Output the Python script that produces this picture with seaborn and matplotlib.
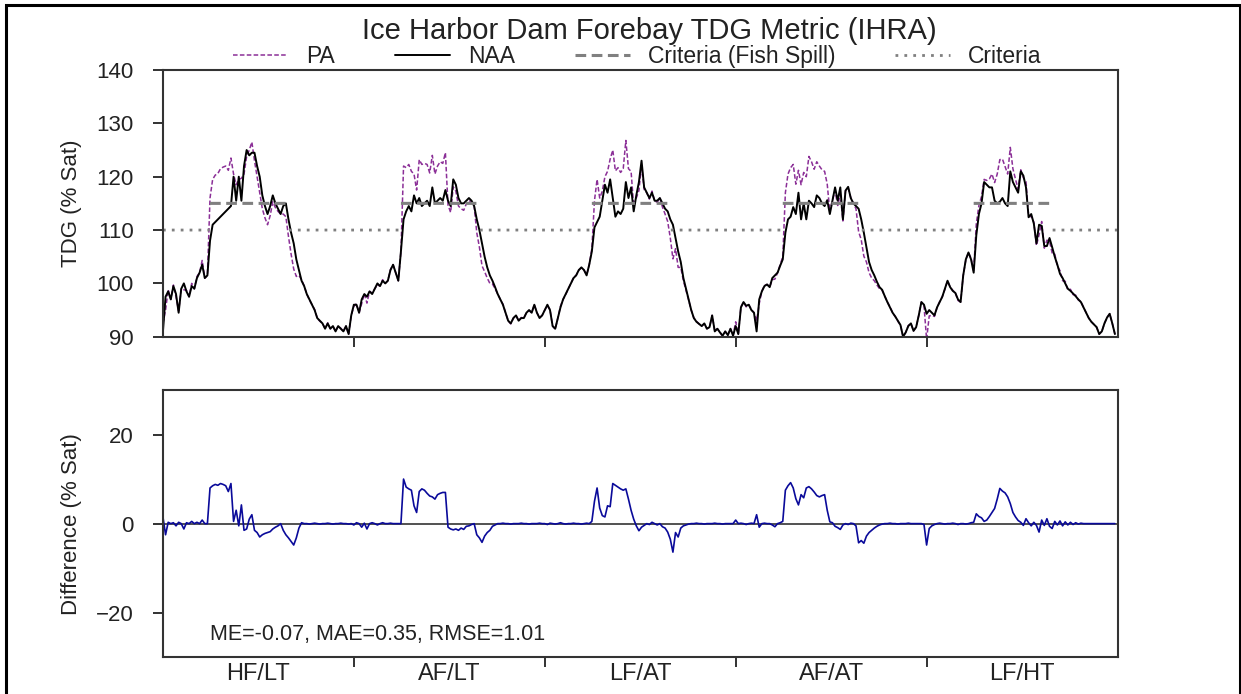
import numpy as np
import pandas as pd
import matplotlib
matplotlib.use("Agg")
import matplotlib.pyplot as plt
import seaborn as sns
from matplotlib.patches import Rectangle

sns.set_theme(style="ticks")
plt.rcParams['font.family'] = ['Liberation Sans', 'DejaVu Sans']

# ---- data (one value every 5 days, 73 per year) ----
year_labels = ["HF/LT", "AF/LT", "LF/AT", "AF/AT", "LF/HT"]
days_per_year = 365
step_days = 5
fish_spill_start = 90   # day of year
fish_spill_end = 240
criteria_fish = 115
criteria_base = 110

naa_hf_lt = [91.0, 97.5, 98.5, 97.0, 99.5, 98.0, 94.5, 99.0, 100.0, 98.5,
             97.5, 99.5, 99.0, 101.0, 102.0, 103.5, 101.0, 101.5, 108.0, 111.0,
             111.5, 112.0, 112.5, 113.0, 113.5, 114.0, 114.5, 120.0, 115.5, 120.0,
             115.5, 122.0, 125.0, 124.0, 124.5, 124.5, 122.0, 120.0, 116.5, 114.5,
             113.0, 114.5, 116.5, 115.0, 114.0, 113.0, 114.5, 115.0, 112.0, 109.5,
             107.5, 104.5, 102.5, 100.5, 99.5, 98.0, 97.0, 96.0, 95.0, 93.5,
             93.0, 92.5, 91.5, 92.5, 91.5, 92.0, 91.0, 92.0, 91.5, 91.0,
             92.0, 90.5, 94.0]
naa_af_lt = [96.0, 96.0, 94.5, 97.0, 98.0, 97.5, 98.5, 98.0, 99.0, 100.0,
             99.5, 100.5, 100.0, 100.5, 102.5, 103.5, 102.0, 100.5, 106.0, 112.0,
             113.5, 114.5, 113.5, 116.5, 115.0, 116.0, 114.5, 115.0, 115.5, 114.5,
             118.0, 115.0, 115.5, 116.0, 115.5, 117.5, 115.5, 114.5, 119.5, 118.5,
             116.0, 115.0, 115.0, 115.5, 116.0, 115.5, 114.5, 112.0, 110.0, 107.5,
             105.0, 103.0, 101.5, 100.5, 99.3, 98.0, 97.0, 96.0, 94.5, 93.0,
             92.5, 93.5, 94.0, 93.0, 93.5, 93.5, 94.5, 95.0, 94.5, 96.0,
             94.5, 93.5, 94.0]
naa_lf_at = [95.0, 96.0, 95.0, 92.0, 91.5, 93.5, 95.5, 97.0, 98.0, 99.0,
             100.0, 101.0, 101.5, 102.5, 103.0, 102.5, 101.5, 103.5, 106.0, 110.5,
             111.5, 112.5, 115.5, 118.5, 117.0, 119.5, 116.0, 112.5, 113.5, 113.0,
             114.0, 119.0, 116.0, 118.0, 113.5, 116.5, 119.0, 123.0, 118.0, 117.0,
             116.0, 117.0, 115.5, 115.5, 116.0, 115.0, 114.0, 113.5, 112.0, 111.0,
             108.5, 106.0, 104.0, 101.0, 99.0, 97.0, 95.0, 93.5, 92.8, 92.4,
             92.0, 92.5, 91.5, 91.8, 94.0, 91.0, 91.5, 90.8, 90.2, 91.0,
             90.3, 91.5, 90.2]
naa_af_at = [92.0, 90.5, 95.5, 96.5, 95.8, 96.0, 95.0, 94.5, 91.0, 97.0,
             98.5, 99.5, 99.8, 99.3, 101.0, 101.5, 102.0, 103.3, 104.5, 109.5,
             112.0, 112.5, 114.3, 113.0, 117.0, 112.0, 115.0, 112.0, 115.5, 115.0,
             114.3, 116.5, 116.0, 115.0, 114.5, 115.6, 113.0, 115.5, 118.0, 115.5,
             118.0, 112.0, 117.4, 118.1, 116.0, 115.0, 114.5, 114.0, 112.0, 109.5,
             106.8, 104.0, 102.5, 101.5, 100.3, 99.3, 98.8, 97.6, 96.5, 95.5,
             94.5, 93.8, 93.0, 92.2, 90.0, 90.8, 92.0, 92.5, 91.1, 91.8,
             94.0, 96.5, 96.0]
naa_lf_ht = [94.3, 95.0, 94.5, 94.0, 95.5, 96.5, 97.5, 99.0, 100.5, 99.3,
             98.6, 98.2, 97.0, 96.5, 101.5, 104.5, 105.8, 104.5, 102.0, 109.0,
             113.0, 115.0, 119.0, 118.5, 118.0, 118.0, 115.5, 115.0, 115.3, 116.0,
             115.0, 114.5, 121.0, 119.0, 118.0, 117.0, 121.0, 120.2, 118.0, 112.4,
             113.0, 111.2, 107.5, 111.0, 110.8, 107.0, 107.0, 108.5, 106.8, 105.0,
             103.5, 101.8, 101.0, 100.0, 99.0, 98.6, 98.1, 97.6, 97.0, 96.5,
             95.5, 94.5, 93.5, 92.8, 92.3, 91.8, 90.5, 91.0, 92.5, 93.6,
             94.3, 92.5, 90.5]

# PA minus NAA
diff_hf_lt = [1.5, -2.5, 0.3, 0.0, 0.2, -0.5, 0.3, 0.0, -1.2, 0.2,
              0.0, 0.5, 0.0, 0.3, 0.0, 0.8, 0.0, 0.0, 8.0, 8.5,
              8.8, 8.6, 9.0, 8.8, 8.5, 7.2, 9.0, 0.5, 3.0, -0.5,
              4.2, -1.5, -1.2, 1.0, 2.0, -1.5, -2.0, -3.0, -2.5, -2.2,
              -2.0, -1.8, -1.2, -0.8, -0.5, 0.0, -1.5, -2.5, -3.2, -4.0,
              -4.8, -3.2, -1.0, 0.2, 0.0, 0.0, -0.1, 0.0, 0.1, 0.0,
              -0.1, 0.0, 0.0, 0.1, 0.0, -0.1, 0.0, 0.0, 0.1, 0.0,
              0.0, -0.1, 0.0]
diff_af_lt = [-0.3, 0.2, 0.0, -0.8, 0.1, -1.2, 0.0, 0.2, 0.0, -0.3,
              0.0, 0.2, 0.0, 0.0, 0.1, 0.0, 0.0, 0.0, 0.0, 10.0,
              8.2, 7.8, 7.5, 4.0, 2.5, 7.2, 7.8, 7.5, 6.8, 6.2,
              6.0, 5.5, 6.5, 6.8, 7.0, 7.0, -0.8, -1.2, -1.4, -1.2,
              -1.5, -1.0, -1.3, -0.6, -0.5, -0.2, 0.0, -2.5, -3.2, -4.2,
              -2.8, -2.0, -1.5, -0.6, -0.3, 0.0, 0.0, 0.1, 0.0, 0.0,
              -0.1, 0.0, 0.0, 0.0, 0.1, 0.0, 0.0, -0.1, 0.0, 0.0,
              0.0, 0.1, 0.0]
diff_lf_at = [0.0, -0.2, 0.1, 0.0, -0.1, 0.0, 0.2, 0.0, -0.1, 0.0,
              0.0, 0.1, 0.0, 0.0, -0.1, 0.0, 0.1, 0.0, 0.5, 5.0,
              8.0, 3.5, 1.8, 1.5, 4.0, 3.8, 9.0, 8.6, 8.2, 7.8,
              7.5, 7.8, 5.5, 3.0, 1.0, -0.5, -1.6, -0.8, -0.4, 0.0,
              -0.2, 0.3, 0.0, -0.3, 0.0, -0.7, -1.0, -1.9, -3.5, -6.4,
              -2.0, -3.0, -1.0, -0.5, -0.3, -0.1, 0.0, 0.0, 0.1, 0.0,
              0.0, -0.1, 0.0, 0.0, 0.0, 0.1, 0.0, 0.0, -0.1, 0.0,
              0.0, 0.0, 0.0]
diff_af_at = [0.8, 0.0, 0.1, 0.0, -0.2, 0.0, 0.1, 0.0, 2.0, -0.8,
              0.0, 0.1, 0.0, 0.0, -0.3, -0.7, 0.0, 0.2, 0.5, 7.5,
              8.5, 9.2, 8.0, 5.6, 4.2, 6.5, 5.8, 8.0, 8.3, 7.8,
              7.1, 6.3, 6.0, 6.3, 6.5, 3.0, 0.4, 0.2, -0.6, -0.9,
              -1.3, -0.3, 0.0, -0.2, 0.1, 0.0, -0.5, -4.3, -3.8, -4.4,
              -2.8, -2.0, -1.5, -1.0, -0.6, -0.3, -0.1, 0.0, 0.0, 0.1,
              0.0, 0.0, -0.1, 0.0, 0.0, 0.0, 0.1, 0.0, 0.0, 0.0,
              0.0, 0.0, -0.2]
diff_lf_ht = [-4.8, -1.1, -0.5, -0.2, 0.0, 0.1, 0.0, -0.1, 0.0, 0.0,
              0.1, 0.0, -0.2, 0.0, 0.0, -0.1, 0.0, 0.2, 0.3, 2.2,
              1.6, 1.3, 0.5, 0.8, 1.6, 2.5, 3.4, 5.5, 7.9, 7.3,
              6.9, 6.0, 4.5, 2.5, 1.5, 0.7, 0.3, -0.4, 1.1, 0.2,
              -0.5, 0.3, -0.4, -1.9, 0.8, -0.4, 1.1, -0.6, -1.1, 0.5,
              -0.3, 0.6, -0.5, 0.4, -0.3, 0.3, -0.2, 0.2, -0.1, 0.1,
              0.0, 0.0, 0.0, 0.0, 0.0, 0.0, 0.0, 0.0, 0.0, 0.0,
              0.0, 0.0, 0.0]

naa_years = [naa_hf_lt, naa_af_lt, naa_lf_at, naa_af_at, naa_lf_ht]
diff_years = [diff_hf_lt, diff_af_lt, diff_lf_at, diff_af_at, diff_lf_ht]

frames = []
for i, (naa, dif) in enumerate(zip(naa_years, diff_years)):
    yday = np.arange(len(naa)) * step_days
    frames.append(pd.DataFrame({"day": i * days_per_year + yday,
                                "NAA": naa, "diff": dif}))
df = pd.concat(frames, ignore_index=True)
df["PA"] = df["NAA"] + df["diff"]

# criteria lines, daily
n_years = len(year_labels)
days = np.arange(n_years * days_per_year + 1)
doy = days % days_per_year
in_spill = (doy >= fish_spill_start) & (doy <= fish_spill_end)
crit_fish = np.where(in_spill, criteria_fish, np.nan)
crit_base = np.where(in_spill, np.nan, criteria_base)

# ---- figure ----
fig = plt.figure(figsize=(12.41, 6.94), dpi=100)
ax1 = fig.add_axes([0.1313, 0.5148, 0.7692, 0.3843])
ax2 = fig.add_axes([0.1313, 0.0529, 0.7692, 0.3852])

sns.lineplot(data=df, x="day", y="PA", ax=ax1, color="#8B2F97", lw=1.1,
             linestyle=(0, (3, 1.5)), label="PA", errorbar=None)
sns.lineplot(data=df, x="day", y="NAA", ax=ax1, color="black", lw=1.4,
             label="NAA", errorbar=None)
ax1.plot(days, crit_fish, color="gray", lw=2.2, linestyle=(0, (3.5, 1.8)),
         label="Criteria (Fish Spill)")
ax1.plot(days, crit_base, color="gray", lw=2.0, linestyle=(0, (1, 2.2)),
         label="Criteria")

ax2.axhline(0, color="#333333", lw=1.2, zorder=1)
sns.lineplot(data=df, x="day", y="diff", ax=ax2, color="#0A0A9A", lw=1.2,
             errorbar=None, zorder=2)

bounds = [i * days_per_year for i in range(1, n_years)]
mids = [i * days_per_year + days_per_year / 2 for i in range(n_years)]

for ax in (ax1, ax2):
    ax.set_xlim(0, n_years * days_per_year)
    ax.set_xticks(bounds)
    ax.set_xticklabels([])
    ax.set_xticks(mids, minor=True)
    ax.tick_params(axis="x", which="major", direction="out", length=7, width=1.3,
                   color="#222222")
    ax.tick_params(axis="y", which="major", direction="out", length=7, width=1.3,
                   labelsize=16, pad=14, color="#222222", labelcolor="#222222")
    ax.set_xlabel("")
    for s in ax.spines.values():
        s.set_linewidth(1.5)
        s.set_color("#333333")

ax1.tick_params(axis="x", which="minor", length=0, labelbottom=False)
ax2.set_xticklabels(year_labels, minor=True)
ax2.tick_params(axis="x", which="minor", length=0, labelsize=17, pad=4,
                labelcolor="#222222")

ax1.set_ylim(90, 140)
ax1.set_yticks([90, 100, 110, 120, 130, 140])
ax2.set_ylim(-30, 30)
ax2.set_yticks([-20, 0, 20])

ax1.set_ylabel("TDG (% Sat)", fontsize=16, color="#222222")
ax2.set_ylabel("Difference (% Sat)", fontsize=16, color="#222222")
ax1.yaxis.set_label_coords(-0.085, 0.5)
ax2.yaxis.set_label_coords(-0.085, 0.5)

ax2.text(0.049, 0.085, "ME=-0.07, MAE=0.35, RMSE=1.01", transform=ax2.transAxes,
         fontsize=15.5, ha="left", va="center", color="#222222")

ax1.text(0.51, 1.146, "Ice Harbor Dam Forebay TDG Metric (IHRA)",
         transform=ax1.transAxes, fontsize=21, ha="center", va="center",
         color="#222222")
ax1.legend(loc="center", bbox_to_anchor=(0.497, 1.052), ncol=4, frameon=False,
           fontsize=16.5, handlelength=2.4, columnspacing=2.6, borderaxespad=0,
           handletextpad=0.8, labelcolor="#222222")

# frame around the picture
fig.patches.append(Rectangle((0.0048, -0.05), 0.9940, 1.0428, transform=fig.transFigure,
                             fill=False, edgecolor="black", lw=2.2))

fig.savefig("out.png", dpi=100)
